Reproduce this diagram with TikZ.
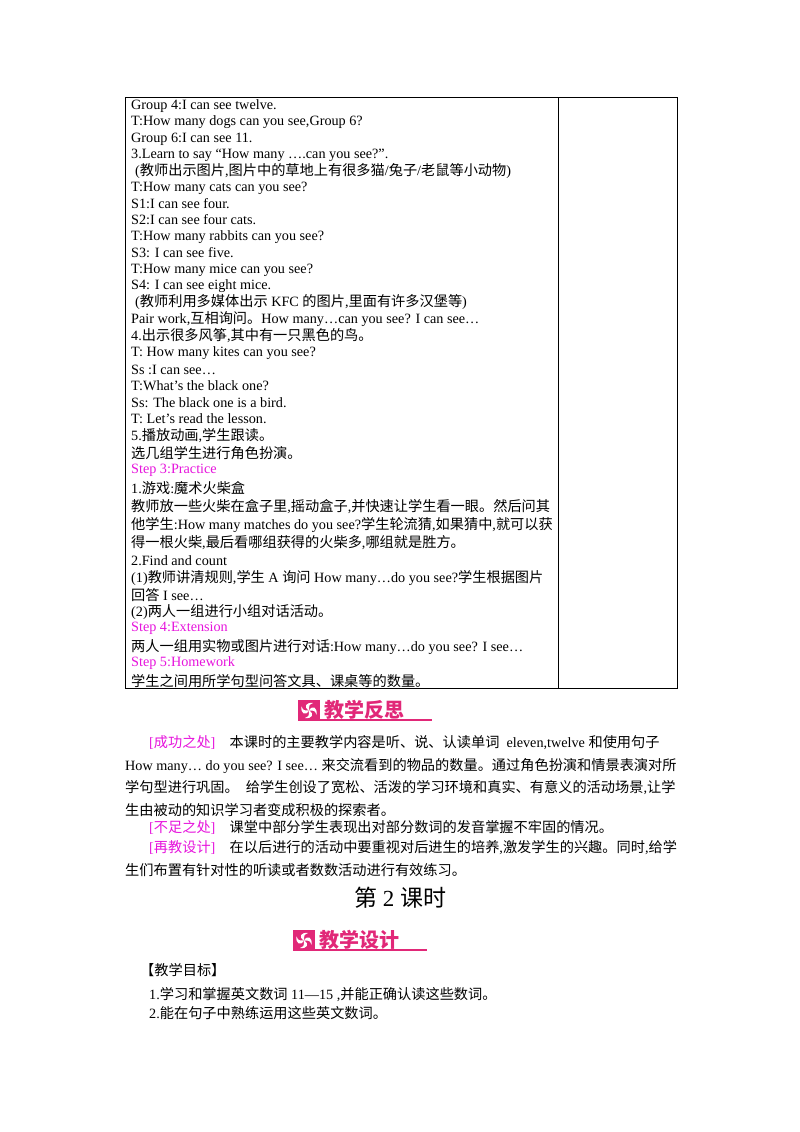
\documentclass[tikz,border=0pt]{standalone}
\usepackage{fontspec}
\setmainfont{Liberation Serif}
\newfontfamily\cjkf{Noto Sans CJK SC}
\XeTeXinterchartokenstate=1
\newXeTeXintercharclass\cjkclass
\newcount\cc
\def\setrange#1#2{\cc=#1\relax\loop\XeTeXcharclass\cc=\cjkclass\advance\cc by 1\relax\ifnum\cc<#2\repeat}
\setrange{"4E00}{"A000}
\setrange{"3000}{"3040}
\setrange{"FF00}{"FFF0}
\XeTeXinterchartoks 0 \cjkclass = {\cjkf}
\XeTeXinterchartoks 4095 \cjkclass = {\cjkf}
\XeTeXinterchartoks \cjkclass 0 = {\rmfamily}
\XeTeXinterchartoks \cjkclass 4095 = {\rmfamily}
\definecolor{mag}{RGB}{230,20,220}
\definecolor{pinkb}{RGB}{225,40,120}
\tikzset{ln/.style={anchor=west,inner sep=0pt,font=\fontsize{14.2}{16}\selectfont},
 st/.style={ln,text=mag},
 bannertext/.style={anchor=west,inner sep=0pt,font=\fontsize{20}{22}\cjkf\bfseries,text=pinkb}}
\newcommand\banner[3]{%
 \fill[pinkb] (#1,#2-10) rectangle ++(22,21);
 \foreach \a in {0,90,180,270}{\fill[white,rotate around={\a:(#1+11,#2+0.5)}] (#1+11,#2+0.5) .. controls (#1+5,#2-3) and (#1+8,#2-8) .. (#1+15,#2-7) .. controls (#1+11,#2-5) .. (#1+11,#2+0.5);}
 \draw[pinkb,line width=1.2pt] (#1,#2+10) -- (#1+134,#2+10);}
\begin{document}
\begin{tikzpicture}[x=1pt,y=-1pt]
\useasboundingbox (0,0) rectangle (800,1132);
\draw[line width=0.8pt] (125,97) rectangle (677,688);
\draw[line width=0.8pt] (558,97) -- (558,688);
\node[ln] (a1) at (131,106) {Group 4:I can see twelve.};
\node[ln] (a2) at (131,122) {T:How many dogs can you see,Group 6?};
\node[ln] (a3) at (131,139) {Group 6:I can see 11.};
\node[ln] (a4) at (131,155) {3.Learn to say “How many ….can you see?”.};
\node[ln] (a5) at (135,171) {(教师出示图片,图片中的草地上有很多猫/兔子/老鼠等小动物)};
\node[ln] (a6) at (131,188) {T:How many cats can you see?};
\node[ln] (a7) at (131,204) {S1:I can see four.};
\node[ln] (a8) at (131,220) {S2:I can see four cats.};
\node[ln] (a9) at (131,237) {T:How many rabbits can you see?};
\node[ln] (a10) at (131,253) {S3: I can see five.};
\node[ln] (a11) at (131,270) {T:How many mice can you see?};
\node[ln] (a12) at (131,286) {S4: I can see eight mice.};
\node[ln] (a13) at (135,302) {(教师利用多媒体出示 KFC 的图片,里面有许多汉堡等)};
\node[ln] (a14) at (131,319) {Pair work,互相询问。How many…can you see? I can see…};
\node[ln] (a15) at (131,336) {4.出示很多风筝,其中有一只黑色的鸟。};
\node[ln] (a16) at (131,353) {T: How many kites can you see?};
\node[ln] (a17) at (131,370) {Ss :I can see…};
\node[ln] (a18) at (131,386) {T:What’s the black one?};
\node[ln] (a19) at (131,403) {Ss: The black one is a bird.};
\node[ln] (a20) at (131,419) {T: Let’s read the lesson.};
\node[ln] (a21) at (131,436) {5.播放动画,学生跟读。};
\node[ln] (a22) at (131,453) {选几组学生进行角色扮演。};
\node[st] (a23) at (131,470) {Step 3:Practice};
\node[ln] (a24) at (131,488) {1.游戏:魔术火柴盒};
\node[ln] (a25) at (131,507) {教师放一些火柴在盒子里,摇动盒子,并快速让学生看一眼。然后问其};
\node[ln] (a26) at (131,525) {他学生:How many matches do you see?学生轮流猜,如果猜中,就可以获};
\node[ln] (a27) at (131,543) {\cjkf 得一根火柴,最后看哪组获得的火柴多,哪组就是胜方。};
\node[ln] (a28) at (131,561) {2.Find and count};
\node[ln] (a29) at (131,578) {(1)教师讲清规则,学生 A 询问 How many…do you see?学生根据图片};
\node[ln] (a30) at (131,595) {回答 I see…};
\node[ln] (a31) at (131,612) {(2)两人一组进行小组对话活动。};
\node[st] (a32) at (131,628) {Step 4:Extension};
\node[ln] (a33) at (131,647) {两人一组用实物或图片进行对话:How many…do you see? I see…};
\node[st] (a34) at (131,663) {Step 5:Homework};
\node[ln] (a35) at (131,681) {学生之间用所学句型问答文具、课桌等的数量。};
\banner{298}{710}{b1}
\node[bannertext] (b1t) at (324,710) {教学反思};
\node[ln] (p1) at (149,743) {\textcolor{mag}{[成功之处]}\quad 本课时的主要教学内容是听、说、认读单词 \ eleven,twelve 和使用句子};
\node[ln] (p2) at (125,766) {How many… do you see? I see…\ 来交流看到的物品的数量。通过角色扮演和情景表演对所};
\node[ln] (p3) at (125,788) {学句型进行巩固。\ \ 给学生创设了宽松、活泼的学习环境和真实、有意义的活动场景,让学};
\node[ln] (p4) at (125,810) {生由被动的知识学习者变成积极的探索者。};
\node[ln] (p5) at (149,827) {\textcolor{mag}{[不足之处]}\quad 课堂中部分学生表现出对部分数词的发音掌握不牢固的情况。};
\node[ln] (p6) at (149,848) {\textcolor{mag}{[再教设计]}\quad 在以后进行的活动中要重视对后进生的培养,激发学生的兴趣。同时,给学};
\node[ln] (p7) at (125,870) {生们布置有针对性的听读或者数数活动进行有效练习。};
\node[anchor=center,inner sep=0pt,font=\fontsize{23}{25}\selectfont] (h) at (400,898) {第 2 课时};
\banner{293}{940}{b2}
\node[bannertext] (b2t) at (319,940) {教学设计};
\node[ln] (g0) at (140,970) {【教学目标】};
\node[ln] (g1) at (149,995) {1.学习和掌握英文数词 11—15 ,并能正确认读这些数词。};
\node[ln] (g2) at (149,1013) {2.能在句子中熟练运用这些英文数词。};
\end{tikzpicture}
\end{document}
